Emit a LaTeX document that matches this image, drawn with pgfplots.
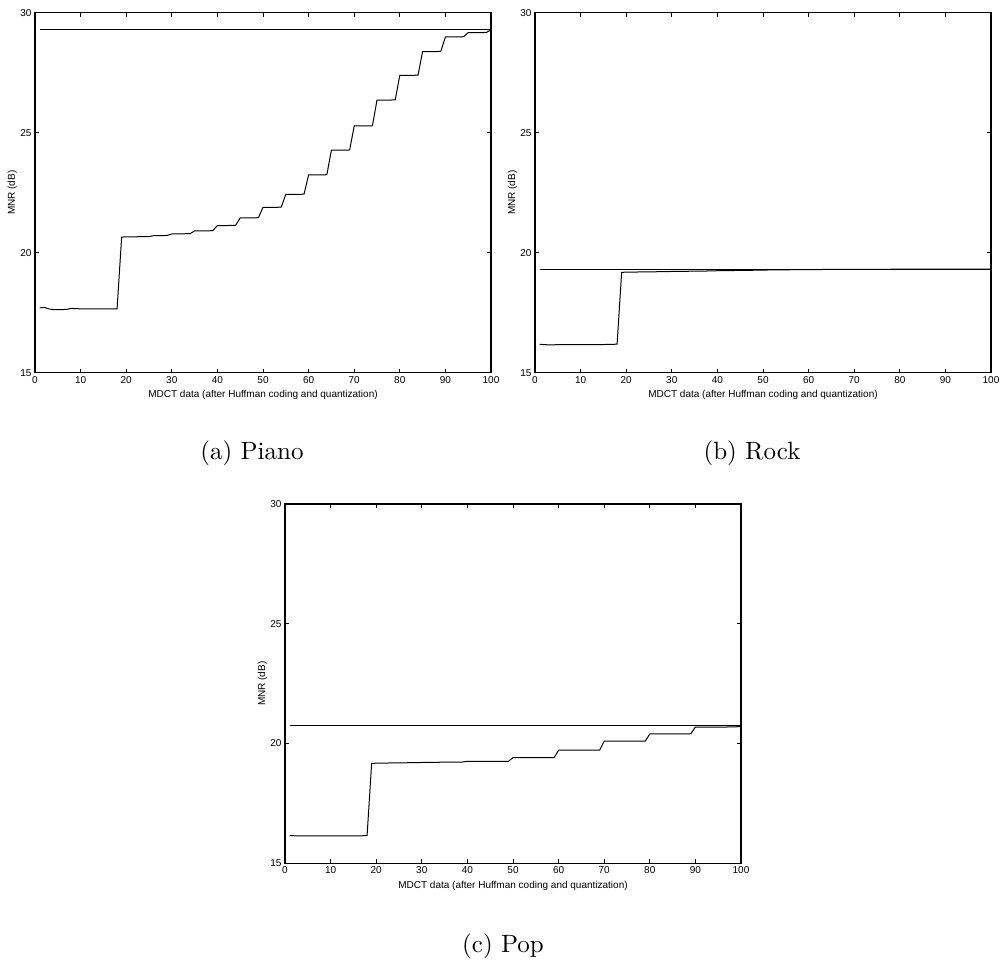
\documentclass[border=0pt]{standalone}
\usepackage{pgfplots}
\pgfplotsset{compat=1.18}
\usepackage{pgfplotstable}
\usepackage{fontspec}
\newfontfamily\plotfont{Liberation Sans}
\newfontfamily\capfont{lmroman10-regular.otf}

% MNR per amount of MDCT data kept (x in %), one column per test signal
\pgfplotstableread{
x piano rock pop
1 17.70 16.18 16.16
2 17.72 16.17 16.15
3 17.66 16.16 16.14
4 17.63 16.16 16.14
5 17.63 16.17 16.14
6 17.63 16.17 16.14
7 17.64 16.17 16.14
8 17.68 16.17 16.14
9 17.67 16.17 16.14
10 17.66 16.17 16.14
11 17.66 16.17 16.14
12 17.66 16.17 16.14
13 17.66 16.17 16.14
14 17.66 16.17 16.14
15 17.66 16.17 16.15
16 17.66 16.18 16.15
17 17.66 16.18 16.15
18 17.66 16.19 16.16
19 20.65 19.18 19.17
20 20.66 19.19 19.18
21 20.66 19.19 19.18
22 20.66 19.19 19.18
23 20.67 19.20 19.19
24 20.67 19.20 19.19
25 20.67 19.20 19.19
26 20.71 19.20 19.19
27 20.71 19.21 19.20
28 20.71 19.21 19.20
29 20.72 19.21 19.20
30 20.78 19.22 19.21
31 20.78 19.22 19.21
32 20.78 19.22 19.21
33 20.79 19.22 19.21
34 20.79 19.23 19.22
35 20.91 19.23 19.22
36 20.91 19.23 19.22
37 20.91 19.23 19.22
38 20.91 19.24 19.22
39 20.92 19.24 19.23
40 21.13 19.25 19.26
41 21.13 19.25 19.26
42 21.13 19.25 19.26
43 21.14 19.25 19.26
44 21.14 19.26 19.26
45 21.45 19.26 19.26
46 21.45 19.26 19.26
47 21.45 19.26 19.26
48 21.45 19.27 19.26
49 21.46 19.27 19.26
50 21.89 19.27 19.41
51 21.89 19.28 19.41
52 21.89 19.28 19.41
53 21.89 19.28 19.41
54 21.90 19.28 19.41
55 22.43 19.28 19.41
56 22.43 19.29 19.41
57 22.43 19.29 19.41
58 22.43 19.29 19.41
59 22.44 19.29 19.41
60 23.24 19.29 19.72
61 23.24 19.29 19.72
62 23.24 19.29 19.72
63 23.24 19.30 19.72
64 23.25 19.30 19.72
65 24.27 19.30 19.72
66 24.27 19.30 19.72
67 24.27 19.30 19.72
68 24.27 19.30 19.72
69 24.28 19.30 19.72
70 25.28 19.30 20.10
71 25.28 19.31 20.10
72 25.28 19.31 20.10
73 25.28 19.31 20.10
74 25.29 19.31 20.10
75 26.36 19.31 20.10
76 26.36 19.31 20.10
77 26.36 19.31 20.10
78 26.36 19.31 20.10
79 26.37 19.32 20.10
80 27.39 19.32 20.40
81 27.39 19.32 20.40
82 27.39 19.32 20.40
83 27.39 19.32 20.40
84 27.40 19.32 20.40
85 28.38 19.32 20.40
86 28.38 19.32 20.40
87 28.38 19.32 20.40
88 28.38 19.32 20.40
89 28.39 19.32 20.41
90 28.99 19.32 20.69
91 28.99 19.32 20.69
92 28.99 19.32 20.69
93 28.99 19.32 20.69
94 29.00 19.32 20.69
95 29.17 19.32 20.69
96 29.17 19.32 20.69
97 29.17 19.32 20.69
98 29.17 19.32 20.70
99 29.18 19.32 20.70
100 29.28 19.32 20.71
}\mnrdata

\pgfplotsset{
  mnr line/.style={black, line width=1pt, mark=none},
  mdct/.style={
    scale only axis,
    width=456pt, height=360pt,
    xmin=0, xmax=100, ymin=15, ymax=30,
    xtick={0,10,...,100}, ytick={15,20,25,30},
    tick align=inside, major tick length=4pt,
    tick style={line width=0.8pt, black},
    axis line style={line width=1.1pt},
    /pgf/number format/assume math mode=true,
    tick label style={font=\plotfont\fontsize{10}{12}\selectfont},
    label style={font=\plotfont\fontsize{10}{12}\selectfont},
    xlabel={MDCT data (after Huffman coding and quantization)},
    ylabel={MNR (dB)},
    xlabel style={at={([yshift=-25pt]axis description cs:0.5,0)}, anchor=base},
    ylabel style={at={([xshift=-20pt]axis description cs:0,0.5)}, anchor=base},
  },
}

\begin{document}
\begin{tikzpicture}
\useasboundingbox (0,0) rectangle (1003pt,961pt);

% (a) Piano
\begin{axis}[mdct, at={(35pt,588.3pt)}, anchor=south west]
  \addplot[mnr line] coordinates {(1,29.31) (100,29.31)};
  \addplot[mnr line] table[x=x, y=piano] {\mnrdata};
\end{axis}

% (b) Rock
\begin{axis}[mdct, at={(535pt,588.3pt)}, anchor=south west]
  \addplot[mnr line] coordinates {(1,19.32) (100,19.32)};
  \addplot[mnr line] table[x=x, y=rock] {\mnrdata};
\end{axis}

% (c) Pop
\begin{axis}[mdct, at={(285pt,97.7pt)}, anchor=south west, height=359.3pt]
  \addplot[mnr line] coordinates {(1,20.75) (100,20.75)};
  \addplot[mnr line] table[x=x, y=pop] {\mnrdata};
\end{axis}

% sub-figure captions
\node[anchor=base, font=\capfont\fontsize{25}{30}\selectfont] at (252pt,501pt) {(a) Piano};
\node[anchor=base, font=\capfont\fontsize{25}{30}\selectfont] at (752pt,501pt) {(b) Rock};
\node[anchor=base, font=\capfont\fontsize{25}{30}\selectfont] at (503pt,9pt) {(c) Pop};
\end{tikzpicture}
\end{document}
